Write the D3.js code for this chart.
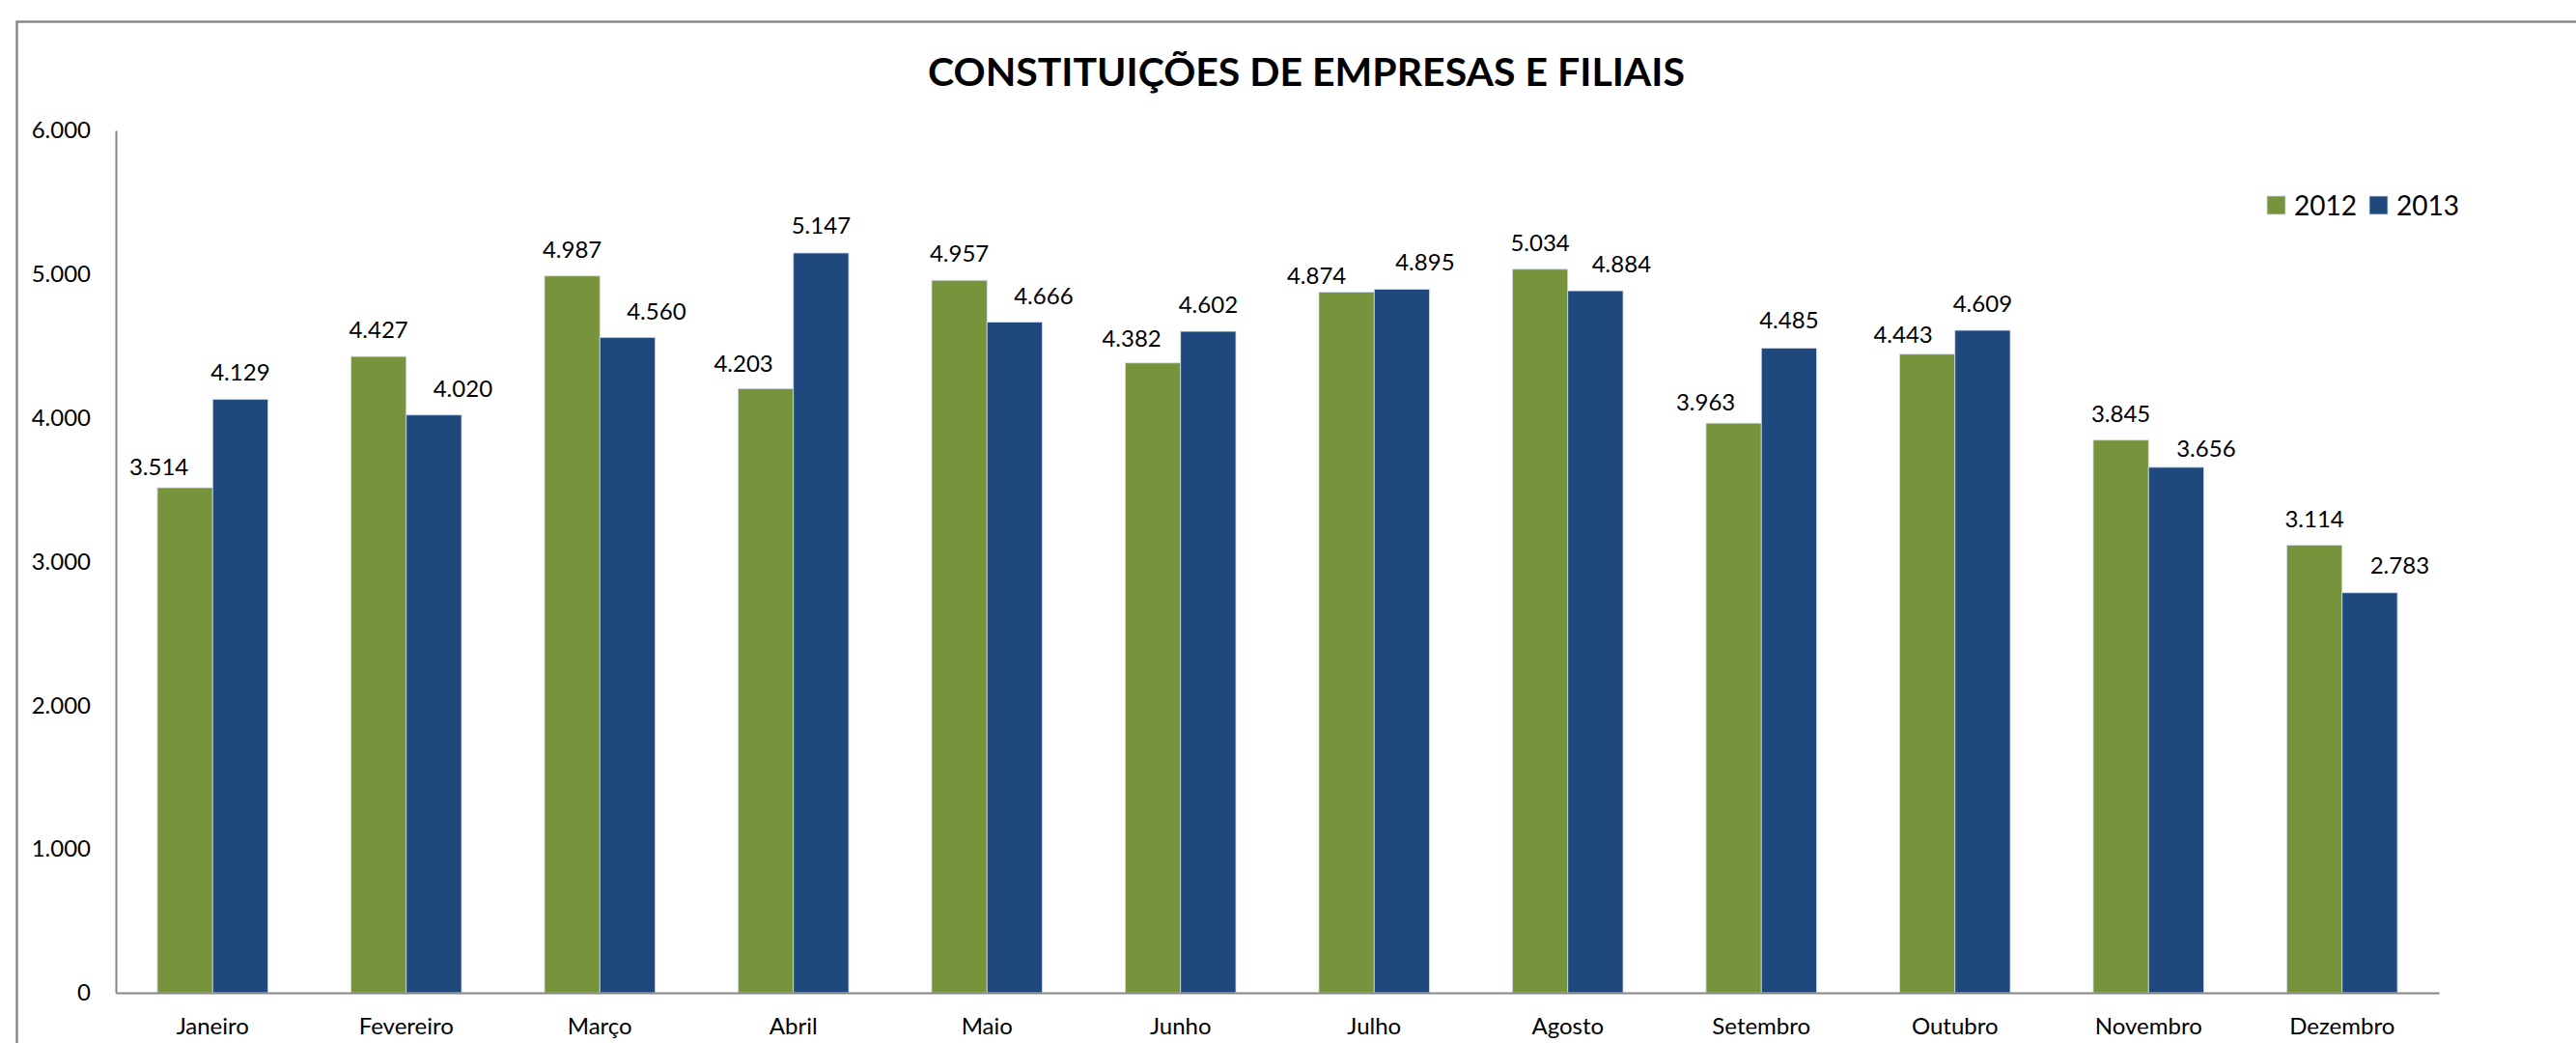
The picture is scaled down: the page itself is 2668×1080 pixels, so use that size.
<!DOCTYPE html>
<html>
<head>
<meta charset="utf-8">
<script src="https://cdn.jsdelivr.net/npm/d3@7"></script>
<style>
  html, body { margin: 0; padding: 0; background: #fff; }
  svg { display: block; }
  text { font-family: Lato, "Open Sans", sans-serif; fill: #000; }
</style>
</head>
<body>
<svg id="chart" width="2668" height="1080"></svg>
<script>
// ---- data ----
const months = ["Janeiro", "Fevereiro", "Março", "Abril", "Maio", "Junho",
                "Julho", "Agosto", "Setembro", "Outubro", "Novembro", "Dezembro"];
const seriesNames = ["2012", "2013"];
const values2012 = [3514, 4427, 4987, 4203, 4957, 4382, 4874, 5034, 3963, 4443, 3845, 3114];
const values2013 = [4129, 4020, 4560, 5147, 4666, 4602, 4895, 4884, 4485, 4609, 3656, 2783];
const yTicks = [0, 1000, 2000, 3000, 4000, 5000, 6000];
const title = "CONSTITUIÇÕES DE EMPRESAS E FILIAIS";

// label nudges (manual placement in the original), [dx, dy] in px
const nudge2012 = [[-27, 6], [0, 0], [0, 0], [-23, 2], [0, 0], [-22, 2], [-31, 10], [0, 0], [-29, 6], [-25, 7], [0, 0], [0, 0]];
const nudge2013 = [[0, 0], [30, 0], [30, 1], [0, -1], [30, 0], [0, 0], [24, 0], [27, 0], [0, -1], [0, 0], [31, 8], [31, -1]];

const colors = { "2012": "#77933C", "2013": "#1F497D" };

const locale = d3.formatLocale({ decimal: ",", thousands: ".", grouping: [3], currency: ["R$", ""] });
const fmt = locale.format(",d");

const svg = d3.select("#chart");
const W = 2668, H = 1080;

// outer chart border
svg.append("rect")
  .attr("x", 17.5).attr("y", 22.5)
  .attr("width", W + 20).attr("height", H + 20)
  .attr("fill", "none").attr("stroke", "#8a8a8a").attr("stroke-width", 2.5);

const plot = { left: 120, right: 2526, top: 135, bottom: 1028 };

const x0 = d3.scaleBand().domain(months).range([plot.left, plot.right]).paddingInner(0).paddingOuter(0);
const x1 = d3.scaleBand().domain(seriesNames).range([0, x0.bandwidth()]).paddingInner(0).paddingOuter(0.75);
const y = d3.scaleLinear().domain([0, 6000]).range([plot.bottom, plot.top]);

// title
svg.append("text")
  .attr("x", 1353).attr("y", 89)
  .attr("text-anchor", "middle")
  .style("font-weight", "bold")
  .style("font-size", "41px")
  .text(title);

// rows
const rows = months.map((m, i) => ({
  month: m,
  vals: [
    { key: "2012", v: values2012[i], n: nudge2012[i] },
    { key: "2013", v: values2013[i], n: nudge2013[i] }
  ]
}));

const groups = svg.append("g").selectAll("g")
  .data(rows).join("g")
  .attr("transform", d => `translate(${x0(d.month)},0)`);

groups.selectAll("rect")
  .data(d => d.vals).join("rect")
  .attr("x", d => x1(d.key))
  .attr("y", d => y(d.v))
  .attr("width", x1.bandwidth())
  .attr("height", d => y(0) - y(d.v))
  .attr("fill", d => colors[d.key])
  .attr("stroke", "#d3dde8")
  .attr("stroke-width", 0.8);

groups.selectAll("text.val")
  .data(d => d.vals).join("text")
  .attr("class", "val")
  .attr("x", d => x1(d.key) + x1.bandwidth() / 2 + d.n[0])
  .attr("y", d => y(d.v) - 19 + d.n[1])
  .attr("text-anchor", "middle")
  .style("font-size", "24px")
  .text(d => fmt(d.v));

// y axis
const yAxis = d3.axisLeft(y).tickValues(yTicks).tickSize(0).tickPadding(26).tickFormat(d => fmt(d));
const gy = svg.append("g").attr("transform", `translate(${plot.left},0)`).call(yAxis);
gy.select(".domain").attr("stroke", "#868686").attr("stroke-width", 2);
gy.selectAll("text").style("font-size", "24px").style("font-family", "Lato, 'Open Sans', sans-serif").attr("fill", "#000");

// x axis
const xAxis = d3.axisBottom(x0).tickSize(0).tickPadding(26);
const gx = svg.append("g").attr("transform", `translate(0,${plot.bottom})`).call(xAxis);
gx.select(".domain").attr("stroke", "#868686").attr("stroke-width", 2);
gx.selectAll("text").style("font-size", "24px").style("font-family", "Lato, 'Open Sans', sans-serif").attr("fill", "#000");

// legend
const legend = svg.append("g").attr("transform", "translate(2348,203)");
const legendOffsets = [0, 106];
seriesNames.forEach((s, i) => {
  const g = legend.append("g").attr("transform", `translate(${legendOffsets[i]},0)`);
  g.append("rect").attr("width", 19).attr("height", 19).attr("fill", colors[s]).attr("stroke", "#d3dde8").attr("stroke-width", 0.8);
  g.append("text").attr("x", 28).attr("y", 20).style("font-size", "28px").text(s);
});
</script>
</body>
</html>
